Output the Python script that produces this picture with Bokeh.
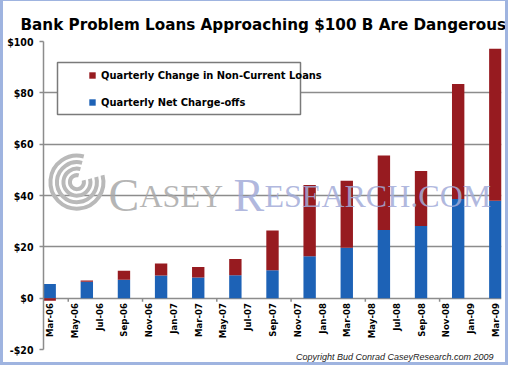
import math
from bokeh.plotting import figure
from bokeh.models import (Range1d, FixedTicker, Legend, LegendItem, BoxAnnotation,
                          Label, Title)
from bokeh.embed import file_html
from bokeh.resources import INLINE

# ---------------- data ----------------
quarters = ["Mar-06", "Jun-06", "Sep-06", "Dec-06", "Mar-07", "Jun-07", "Sep-07",
            "Dec-07", "Mar-08", "Jun-08", "Sep-08", "Dec-08", "Mar-09"]
quarter_month = [0, 3, 6, 9, 12, 15, 18, 21, 24, 27, 30, 33, 36]  # months after Mar-06
net_chargeoffs = [5.5, 6.4, 7.2, 8.8, 8.1, 8.9, 10.9, 16.3, 19.6, 26.6, 28.1, 38.6, 38.0]
noncurrent_change = [-1.0, 0.5, 3.5, 4.7, 4.0, 6.4, 15.5, 27.8, 26.1, 29.0, 21.4, 44.8, 59.2]

month_labels = ["Mar-06", "May-06", "Jul-06", "Sep-06", "Nov-06", "Jan-07", "Mar-07",
                "May-07", "Jul-07", "Sep-07", "Nov-07", "Jan-08", "Mar-08", "May-08",
                "Jul-08", "Sep-08", "Nov-08", "Jan-09", "Mar-09"]
month_label_pos = [0, 2, 4, 6, 8, 10, 12, 14, 16, 18, 20, 22, 24, 26, 28, 30, 32, 34, 36]

y_ticks = [-20, 0, 20, 40, 60, 80, 100]
y_tick_labels = ["-$20", "$0", "$20", "$40", "$60", "$80", "$100"]

# ---------------- styles ----------------
RED = "#971b20"
BLUE = "#1d62b6"
GRID = "#8c8c8c"
COND = "'DejaVu Sans Condensed', Roboto, sans-serif"

p = figure(width=508, height=365, x_range=Range1d(-0.5, 36.5), y_range=Range1d(-20, 100),
           output_backend="svg", toolbar_location=None, x_axis_location=None,
           min_border_left=40, min_border_right=10, min_border_top=40, min_border_bottom=17)
p.styles = {"border-style": "solid", "border-color": "#9fb4e0",
            "border-width": "1px 3px 3px 3px"}
p.outline_line_color = None
p.background_fill_color = "white"
p.border_fill_color = "white"

p.title.text = "Bank Problem Loans Approaching $100 B Are Dangerous"
p.title.align = "left"
p.title.text_font = "DejaVu Sans"
p.title.text_font_style = "bold"
p.title.text_font_size = "15.2px"
p.title.text_color = "black"
p.title.standoff = 16
p.title.offset = -23

# y axis
p.yaxis.ticker = FixedTicker(ticks=y_ticks)
p.yaxis.major_label_overrides = {t: l for t, l in zip(y_ticks, y_tick_labels)}
p.yaxis.axis_line_color = GRID
p.yaxis.axis_line_width = 1.5
p.yaxis.major_tick_line_color = GRID
p.yaxis.major_tick_line_width = 1.5
p.yaxis.major_tick_out = 4
p.yaxis.major_tick_in = 0
p.yaxis.minor_tick_line_color = None
p.yaxis.major_label_standoff = 6
p.yaxis.major_label_text_font = COND
p.yaxis.major_label_text_font_style = "bold"
p.yaxis.major_label_text_font_size = "10.5px"
p.yaxis.major_label_text_color = "black"

p.ygrid.ticker = FixedTicker(ticks=y_ticks)
p.ygrid.grid_line_color = GRID
p.ygrid.grid_line_width = 1.5
p.xgrid.visible = False

# watermark logo rings (decoration)
p.arc(x=2.2, y=45.2, radius=[7, 13.5, 20, 26.5], radius_units="screen",
      start_angle=math.radians(75), end_angle=math.radians(15), direction="anticlock",
      line_color="#b9b9b9", line_width=4)

# bars
blue_r = p.vbar(x=quarter_month, bottom=0, top=net_chargeoffs, width=1.0,
                fill_color=BLUE, line_color=None)
red_bottom = [b if c >= 0 else 0 for b, c in zip(net_chargeoffs, noncurrent_change)]
red_top = [b + c if c >= 0 else c for b, c in zip(net_chargeoffs, noncurrent_change)]
red_r = p.vbar(x=quarter_month, bottom=red_bottom, top=red_top, width=1.0,
               fill_color=RED, line_color=None)

# small ticks along the zero line every six months
zero_ticks = [1.5 + 6 * k for k in range(6)]
p.segment(x0=zero_ticks, y0=[0] * len(zero_ticks), x1=zero_ticks,
          y1=[-1.4] * len(zero_ticks), line_color=GRID, line_width=1.5)

# month labels hanging below the zero line
p.text(x=month_label_pos, y=[0] * len(month_label_pos), text=month_labels,
       angle=math.pi / 2, text_align="right", text_baseline="middle", y_offset=5,
       text_font={"value": COND}, text_font_style="bold", text_font_size="9.5px",
       text_color="black")

# watermark text
wm = [("C", 65, "46px", "#a8a8a8"), ("ASEY", 96, "32px", "#a8a8a8"),
      ("R", 190, "46px", "#a3acd9"), ("ESEARCH.COM", 221, "32px", "#a3acd9")]
for t, xx, fs, col in wm:
    p.add_layout(Label(x=xx, y=154, x_units="screen", y_units="screen", text=t,
                       text_font="Liberation Serif", text_font_size=fs,
                       text_color=col, text_alpha=0.85, text_baseline="alphabetic"))

# legend box + legend
p.add_layout(BoxAnnotation(left=14, right=257, top=287, bottom=235,
                           left_units="screen", right_units="screen",
                           top_units="screen", bottom_units="screen",
                           fill_color="white", fill_alpha=1.0,
                           line_color="#7a7a7a", line_width=1.5, line_alpha=1.0))
legend = Legend(items=[LegendItem(label="Quarterly Change in Non-Current Loans", renderers=[red_r]),
                       LegendItem(label="Quarterly Net Charge-offs", renderers=[blue_r])],
                location=(45, 240), border_line_alpha=0, background_fill_alpha=0,
                padding=0, margin=0, spacing=13, glyph_width=8, glyph_height=8,
                label_height=14, label_standoff=5, label_text_font=COND,
                label_text_font_style="bold", label_text_font_size="11px",
                label_text_color="black")
p.add_layout(legend)

# copyright note
p.add_layout(Title(text="Copyright Bud Conrad CaseyResearch.com 2009", align="right",
                   text_font="'Liberation Sans', Arial, sans-serif",
                   text_font_style="italic", text_font_size="9px",
                   text_color="#222222", offset=8, standoff=2,
                   vertical_align="middle"), "below")

open("out.html", "w").write(file_html(p, INLINE))
